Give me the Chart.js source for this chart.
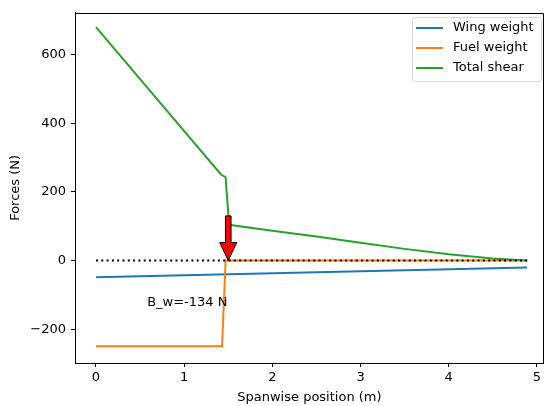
<!DOCTYPE html>
<html>
<head>
<meta charset="utf-8">
<script src="https://cdn.jsdelivr.net/npm/chart.js@4"></script>
<style>
  html, body { margin: 0; padding: 0; background: #fff; overflow: hidden; }
  #forces { display: block; }
</style>
</head>
<body>
<canvas id="forces" width="544" height="406"></canvas>
<script>
// spanwise stations (m) and loads (N)
const wingX = [0, 4.89];
const wingWeight = [-49, -20];

const fuelX = [0, 1.43, 1.47, 4.89];
const fuelWeight = [-250, -250, 0, 0];

const shearX = [0, 1.42, 1.47, 1.51, 2.0, 2.5, 3.0, 3.5, 4.0, 4.5, 4.89];
const totalShear = [680, 250, 243, 104, 87, 70, 52, 34, 18, 6, 0];

const zeroX = [0, 4.89];
const zeroY = [0, 0];

// point load arrow and its label
const loadX = 1.5;
const loadFrom = 130;
const loadTo = 0;
const loadLabel = 'B_w=-134 N';
const loadLabelX = 0.58;
const loadLabelY = -122;

const xTicks = [0, 1, 2, 3, 4, 5];
const yTicks = [-200, 0, 200, 400, 600];

const FONT = 'DejaVu Sans';
const SIZE = 13;

const pts = (xs, ys) => xs.map((x, i) => ({ x, y: ys[i] }));

const extras = {
    id: 'extras',
    afterDatasetsDraw(chart) {
        const { ctx, scales: { x, y }, chartArea } = chart;
        ctx.save();

        // top and right spines
        const t = Math.round(chartArea.top) + 0.5;
        const r = Math.round(chartArea.right) - 0.5;
        ctx.strokeStyle = '#000';
        ctx.lineWidth = 1;
        ctx.beginPath();
        ctx.moveTo(chartArea.left, t);
        ctx.lineTo(r, t);
        ctx.lineTo(r, chartArea.bottom);
        ctx.stroke();

        // arrow for the point load
        const cx = x.getPixelForValue(loadX);
        const top = y.getPixelForValue(loadFrom);
        const tip = y.getPixelForValue(loadTo);
        const headLen = 18, headHalf = 8.5, shaftHalf = 2.8;
        ctx.beginPath();
        ctx.moveTo(cx - shaftHalf, top);
        ctx.lineTo(cx + shaftHalf, top);
        ctx.lineTo(cx + shaftHalf, tip - headLen);
        ctx.lineTo(cx + headHalf, tip - headLen);
        ctx.lineTo(cx, tip);
        ctx.lineTo(cx - headHalf, tip - headLen);
        ctx.lineTo(cx - shaftHalf, tip - headLen);
        ctx.closePath();
        ctx.fillStyle = '#ff0000';
        ctx.fill();
        ctx.lineJoin = 'miter';
        ctx.strokeStyle = '#000';
        ctx.lineWidth = 1;
        ctx.stroke();

        // load label
        ctx.font = `${SIZE}px "${FONT}"`;
        ctx.fillStyle = '#000';
        ctx.textAlign = 'left';
        ctx.textBaseline = 'middle';
        ctx.fillText(loadLabel, x.getPixelForValue(loadLabelX), y.getPixelForValue(loadLabelY));

        // legend box, upper right
        const bx = 412, by = 17, bw = 129, bh = 64;
        ctx.beginPath();
        ctx.roundRect(bx + 0.5, by + 0.5, bw, bh, 3);
        ctx.fillStyle = 'rgba(255,255,255,0.8)';
        ctx.fill();
        ctx.strokeStyle = '#d6d6d6';
        ctx.lineWidth = 1;
        ctx.stroke();

        const items = chart.data.datasets.filter(d => d.label);
        items.forEach((d, i) => {
            const ry = by + 11 + i * 20;
            ctx.beginPath();
            ctx.moveTo(bx + 4, ry);
            ctx.lineTo(bx + 31, ry);
            ctx.strokeStyle = d.borderColor;
            ctx.lineWidth = 2;
            ctx.stroke();
            ctx.fillStyle = '#000';
            ctx.fillText(d.label, bx + 41, ry);
        });

        ctx.restore();
    }
};

new Chart(document.getElementById('forces'), {
    type: 'line',
    data: {
        datasets: [
            { label: 'Wing weight', data: pts(wingX, wingWeight), borderColor: '#1f77b4', order: 4 },
            { label: 'Fuel weight', data: pts(fuelX, fuelWeight), borderColor: '#ff7f0e', order: 3 },
            { label: 'Total shear', data: pts(shearX, totalShear), borderColor: '#2ca02c', order: 2 },
            { label: '', data: pts(zeroX, zeroY), borderColor: '#000', borderDash: [2, 3.3], order: 1 }
        ]
    },
    options: {
        responsive: false,
        animation: false,
        parsing: false,
        layout: { padding: { top: 11, right: 0, left: 0, bottom: 0 } },
        elements: {
            line: { borderWidth: 2, tension: 0, fill: false },
            point: { radius: 0 }
        },
        plugins: {
            legend: { display: false },
            tooltip: { enabled: false }
        },
        scales: {
            x: {
                type: 'linear',
                min: -0.238,
                max: 5.079,
                afterFit: s => { s.height = 43; },
                afterBuildTicks: s => { s.ticks = xTicks.map(v => ({ value: v })); },
                grid: { drawOnChartArea: false, drawTicks: true, tickLength: 4, color: '#000' },
                border: { display: true, color: '#000', width: 1 },
                ticks: { color: '#000', padding: 3, font: { family: FONT, size: SIZE } },
                title: {
                    display: true,
                    text: 'Spanwise position (m)',
                    color: '#000',
                    font: { family: FONT, size: SIZE },
                    padding: { top: 0, bottom: 1 }
                }
            },
            y: {
                type: 'linear',
                min: -298.6,
                max: 722,
                afterFit: s => { s.width = 75; },
                afterBuildTicks: s => { s.ticks = yTicks.map(v => ({ value: v })); },
                grid: { drawOnChartArea: false, drawTicks: true, tickLength: 4, color: '#000' },
                border: { display: true, color: '#000', width: 1 },
                ticks: {
                    color: '#000',
                    padding: 5,
                    font: { family: FONT, size: SIZE },
                    callback: v => v < 0 ? '\u2212' + Math.abs(v) : String(v)
                },
                title: {
                    display: true,
                    text: 'Forces (N)',
                    color: '#000',
                    font: { family: FONT, size: SIZE },
                    padding: { top: 8, bottom: 0 }
                }
            }
        }
    },
    plugins: [extras]
});
</script>
</body>
</html>
